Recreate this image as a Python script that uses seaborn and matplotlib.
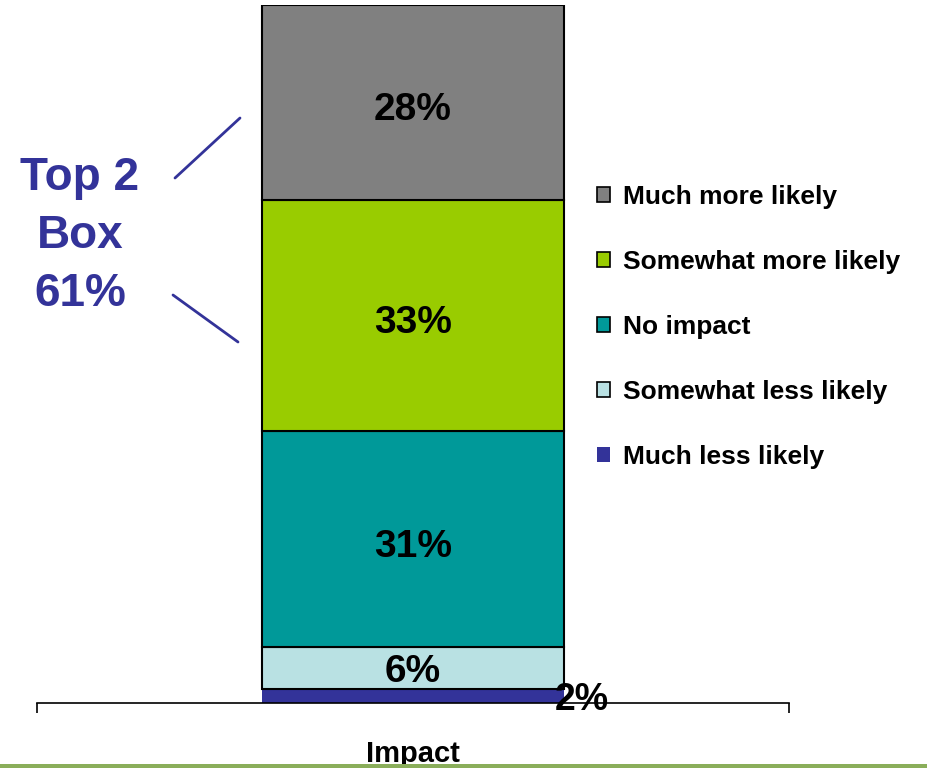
import numpy as np
import pandas as pd
import matplotlib
matplotlib.use("Agg")
import matplotlib.pyplot as plt
from matplotlib.patches import Rectangle
from matplotlib.lines import Line2D
from matplotlib.ticker import FixedLocator
import seaborn as sns

# 資料 (由下往上堆疊)
category = ["Impact"]
segments = ["Much less likely", "Somewhat less likely", "No impact",
            "Somewhat more likely", "Much more likely"]
values = [2, 6, 31, 33, 28]
colors = ["#333399", "#B9E1E3", "#009999", "#99CC00", "#808080"]
top2_text = "Top 2\nBox\n61%"

sns.set_theme(style="white")
plt.rcParams['font.family'] = ['Liberation Sans', 'DejaVu Sans']
plt.rcParams['text.color'] = 'black'
plt.rcParams['xtick.color'] = 'black'

W, H = 927, 768
fig = plt.figure(figsize=(W / 100, H / 100), dpi=100)
ax = fig.add_axes([37 / W, 65 / H, 752 / W, 698 / H])

bottoms = np.concatenate([[0], np.cumsum(values)[:-1]])
handles = []
for seg, val, bot, col in zip(segments, values, bottoms, colors):
    df = pd.DataFrame({"cat": category, "val": [val]})
    edge = "none" if seg == "Much less likely" else "black"
    sns.barplot(data=df, x="cat", y="val", bottom=bot, color=col, width=0.402,
                edgecolor=edge, linewidth=1.5 if edge != "none" else 0,
                saturation=1, errorbar=None, ax=ax)
    handles.append(Rectangle((0, 0), 1, 1, facecolor=col, edgecolor=edge,
                             linewidth=1.2 if edge != "none" else 0, label=seg))

    # 百分比標籤
    if val < 3:
        ax.text(0.225, bot + val / 2 - 0.6, f"{val}%", ha="center", va="center",
                fontsize=27, fontweight="bold", color="black", zorder=5)
    else:
        shift = 1.1 if val > 10 else 0.5
        ax.text(0, bot + val / 2 - shift, f"{val}%", ha="center", va="center",
                fontsize=28, fontweight="bold", color="black")

ax.set_xlim(-0.5, 0.5)
ax.set_ylim(0, 100)
ax.set_xlabel("")
ax.set_ylabel("")
ax.set_yticks([])
for s in ["top", "left", "right"]:
    ax.spines[s].set_visible(False)
ax.spines["bottom"].set_color("black")
ax.spines["bottom"].set_linewidth(1.2)

ax.set_xticks([0])
ax.set_xticklabels(category, fontsize=21, fontweight="bold", color="black")
ax.xaxis.set_minor_locator(FixedLocator([-0.5, 0.5]))
ax.tick_params(axis="x", which="major", length=0, pad=27)
ax.tick_params(axis="x", which="minor", length=7, width=1.2, direction="out",
               color="black", bottom=True)

# 圖例 (反向順序)
leg = fig.legend(handles=handles[::-1], loc="upper left",
                 bbox_to_anchor=(597 / W, 1 - 185 / H), frameon=False,
                 fontsize=19, handlelength=0.5, handleheight=0.5,
                 handletextpad=0.5, labelspacing=1.55, borderpad=0,
                 borderaxespad=0)
for t in leg.get_texts():
    t.set_fontweight("bold")
    t.set_color("black")

# Top 2 Box 註記
fig.text(80 / W, 1 - 236 / H, top2_text, ha="center", va="center",
         fontsize=33, fontweight="bold", color="#333399", linespacing=1.42)
fig.add_artist(Line2D([175 / W, 240 / W], [1 - 178 / H, 1 - 118 / H],
                      color="#333399", linewidth=2, transform=fig.transFigure))
fig.add_artist(Line2D([173 / W, 238 / W], [1 - 295 / H, 1 - 342 / H],
                      color="#333399", linewidth=2, transform=fig.transFigure))

# 底部綠色線
fig.add_artist(Rectangle((0, 0), 1, 4 / H, facecolor="#8AAE5A", edgecolor="none",
                         transform=fig.transFigure))

fig.savefig("out.png", dpi=100)
